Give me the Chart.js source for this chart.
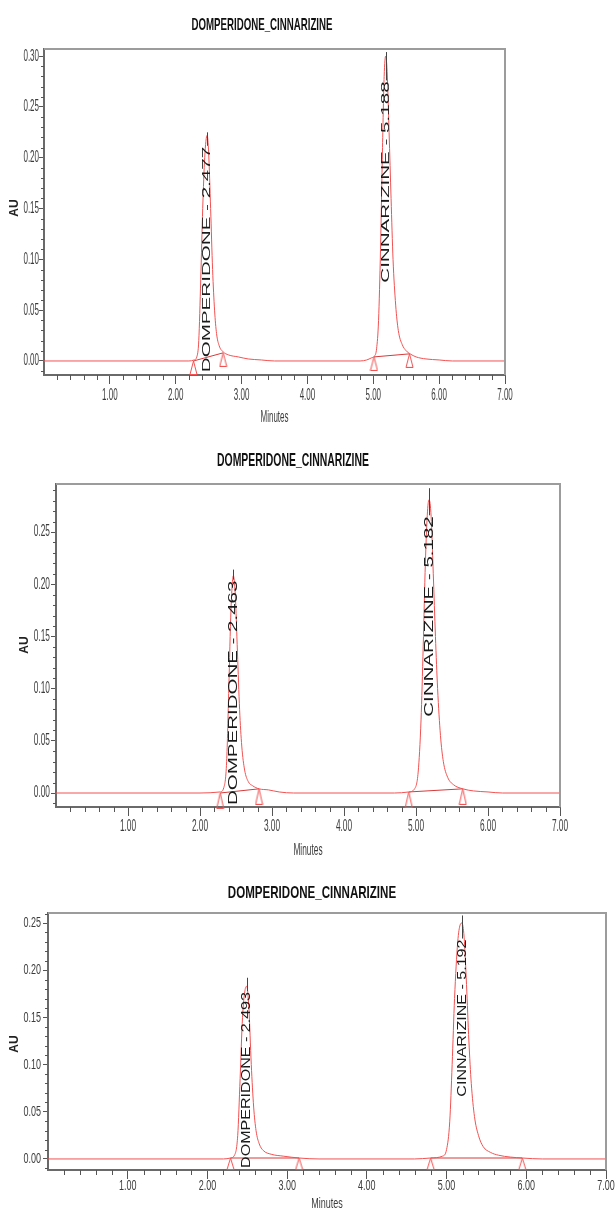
<!DOCTYPE html>
<html>
<head>
<meta charset="utf-8">
<title>DOMPERIDONE_CINNARIZINE</title>
<script src="https://cdn.jsdelivr.net/npm/chart.js@4.4.1/dist/chart.umd.min.js"></script>
<style>
  html, body { margin: 0; padding: 0; background: #fff; }
  #wrap { position: relative; width: 615px; height: 1209px; overflow: hidden; }
  canvas { position: absolute; left: 0; }
</style>
</head>
<body>
<div id="wrap">
  <canvas id="chartA" width="615" height="425" style="top:0px"></canvas>
  <canvas id="chartB" width="615" height="440" style="top:425px"></canvas>
  <canvas id="chartC" width="615" height="344" style="top:865px"></canvas>
</div>
<script>
// shared
var peakNames = ['DOMPERIDONE', 'CINNARIZINE'];
var xTicks = [1, 2, 3, 4, 5, 6, 7];

// run 1
var timeA = [0.00, 2.20, 2.28, 2.32, 2.35, 2.38, 2.41, 2.44, 2.477, 2.50, 2.53, 2.56, 2.59, 2.62, 2.66, 2.72, 2.80, 2.95, 3.10, 3.30, 3.50,
             4.80, 4.90, 4.97, 5.02, 5.05, 5.08, 5.11, 5.14, 5.165, 5.188, 5.21, 5.24, 5.27, 5.30, 5.34, 5.38, 5.44, 5.50, 5.56, 5.65, 5.80, 6.00, 6.20, 7.00];
var auA   = [0.000, 0.000, 0.001, 0.004, 0.020, 0.080, 0.150, 0.200, 0.222, 0.205, 0.150, 0.090, 0.050, 0.027, 0.015, 0.009, 0.006, 0.004, 0.002, 0.001, 0.000,
             0.000, 0.001, 0.003, 0.005, 0.012, 0.040, 0.110, 0.210, 0.280, 0.300, 0.285, 0.225, 0.160, 0.100, 0.055, 0.030, 0.016, 0.010, 0.007, 0.004, 0.002, 0.001, 0.000, 0.000];
var retA = [2.477, 5.188];
var startA = [2.27, 5.01], startAuA = [0.000, 0.004];
var endA = [2.72, 5.55], endAuA = [0.008, 0.007];
var yTicksA = [0.00, 0.05, 0.10, 0.15, 0.20, 0.25, 0.30];

// run 2
var timeB = [0.00, 2.00, 2.28, 2.33, 2.37, 2.40, 2.43, 2.463, 2.49, 2.52, 2.55, 2.58, 2.62, 2.67, 2.73, 2.82, 2.95, 3.10, 3.30,
             4.70, 4.90, 4.98, 5.03, 5.07, 5.10, 5.13, 5.16, 5.182, 5.21, 5.24, 5.27, 5.30, 5.34, 5.38, 5.44, 5.52, 5.65, 5.80, 6.00, 6.20, 7.00];
var auB   = [0.000, 0.000, 0.001, 0.005, 0.030, 0.100, 0.175, 0.208, 0.190, 0.135, 0.080, 0.045, 0.022, 0.011, 0.007, 0.004, 0.003, 0.001, 0.000,
             0.000, 0.001, 0.004, 0.020, 0.070, 0.140, 0.220, 0.270, 0.281, 0.265, 0.210, 0.150, 0.100, 0.055, 0.030, 0.015, 0.008, 0.004, 0.002, 0.001, 0.000, 0.000];
var retB = [2.463, 5.182];
var startB = [2.28, 4.90], startAuB = [0.000, 0.001];
var endB = [2.82, 5.65], endAuB = [0.004, 0.004];
var yTicksB = [0.00, 0.05, 0.10, 0.15, 0.20, 0.25];

// run 3
var timeC = [0.00, 2.20, 2.29, 2.34, 2.38, 2.41, 2.44, 2.47, 2.493, 2.52, 2.55, 2.58, 2.61, 2.65, 2.70, 2.80, 2.95, 3.15, 3.40,
             4.60, 4.80, 4.95, 5.00, 5.04, 5.07, 5.10, 5.14, 5.17, 5.192, 5.22, 5.25, 5.28, 5.31, 5.35, 5.40, 5.46, 5.55, 5.65, 5.80, 5.95, 6.20, 7.00];
var auC   = [0.000, 0.000, 0.001, 0.004, 0.025, 0.085, 0.150, 0.178, 0.183, 0.160, 0.100, 0.055, 0.030, 0.016, 0.009, 0.005, 0.003, 0.001, 0.000,
             0.000, 0.001, 0.003, 0.010, 0.040, 0.100, 0.170, 0.230, 0.248, 0.250, 0.235, 0.185, 0.125, 0.080, 0.045, 0.025, 0.013, 0.007, 0.004, 0.002, 0.001, 0.000, 0.000];
var retC = [2.493, 5.192];
var startC = [2.29, 4.80], startAuC = [0.001, 0.001];
var endC = [3.15, 5.95], endAuC = [0.001, 0.001];
var yTicksC = [0.00, 0.05, 0.10, 0.15, 0.20, 0.25];

var RED = 'rgb(242,82,82)';
var FONT = '"Liberation Sans", Arial, sans-serif';

function triangleMark(h) {
  // open triangle whose apex sits on the point
  var c = document.createElement('canvas');
  c.width = 9; c.height = h * 2;
  var g = c.getContext('2d');
  g.strokeStyle = RED; g.lineWidth = 1;
  g.beginPath();
  g.moveTo(4.5, h); g.lineTo(8, 2 * h - 0.5); g.lineTo(1, 2 * h - 0.5); g.closePath();
  g.stroke();
  return c;
}

function txt(ctx, s, x, y, sx, sy, rot, align) {
  ctx.save();
  ctx.translate(x, y);
  if (rot) ctx.rotate(rot);
  ctx.scale(sx, sy);
  ctx.textAlign = align || 'center';
  ctx.textBaseline = 'middle';
  ctx.fillText(s, 0, 0);
  ctx.restore();
}

var chromPlugin = {
  id: 'chrom',
  afterDraw: function(chart, args, o) {
    var ctx = chart.ctx, a = chart.chartArea, xs = chart.scales.x, ys = chart.scales.y;
    ctx.save();

    // top and right frame
    ctx.strokeStyle = '#9c9c9c'; ctx.lineWidth = 2;
    ctx.beginPath();
    ctx.moveTo(a.left, a.top); ctx.lineTo(a.right, a.top); ctx.lineTo(a.right, a.bottom);
    ctx.stroke();

    // minor ticks
    ctx.strokeStyle = '#555'; ctx.lineWidth = 1;
    var i, v, p;
    for (i = 1; i * 0.2 < xs.max - 1e-6; i++) {
      if (i % 5 === 0) continue;
      p = Math.round(xs.getPixelForValue(i * 0.2)) + 0.5;
      ctx.beginPath(); ctx.moveTo(p, a.bottom); ctx.lineTo(p, a.bottom + 5); ctx.stroke();
    }
    for (i = -5; i * 0.01 < ys.max; i++) {
      v = i * 0.01;
      if (v < ys.min || i % 5 === 0) continue;
      p = Math.round(ys.getPixelForValue(v)) + 0.5;
      ctx.beginPath(); ctx.moveTo(a.left - 3, p); ctx.lineTo(a.left, p); ctx.stroke();
    }

    // tick labels
    ctx.fillStyle = '#3c3c3c';
    ctx.font = o.tickSize + 'px ' + FONT;
    xs.ticks.forEach(function(t) {
      txt(ctx, t.value.toFixed(2), xs.getPixelForValue(t.value), o.xLabelY, o.tickSx, 1);
    });
    ys.ticks.forEach(function(t) {
      txt(ctx, t.value.toFixed(2), a.left - o.yLabelGap, ys.getPixelForValue(t.value), o.tickSx, 1, 0, 'right');
    });

    // title and axis titles
    ctx.fillStyle = '#111';
    ctx.font = 'bold ' + o.titleSize + 'px ' + FONT;
    txt(ctx, o.title, o.titleX, o.titleY, o.titleSx, 1);
    ctx.fillStyle = '#3c3c3c';
    ctx.font = o.tickSize + 'px ' + FONT;
    txt(ctx, 'Minutes', (a.left + a.right) / 2, o.minutesY, o.tickSx, 1);
    ctx.fillStyle = '#222';
    ctx.font = 'bold 12px ' + FONT;
    txt(ctx, 'AU', o.auX, o.auY, 1, 1, -Math.PI / 2);

    // peak labels
    ctx.font = o.peakSize + 'px ' + FONT;
    o.ret.forEach(function(rt, k) {
      var s = peakNames[k] + ' - ' + rt.toFixed(3);
      var x = xs.getPixelForValue(rt);
      var yb = ys.getPixelForValue(o.labelBase[k]);
      var w = ctx.measureText(s).width * o.peakStretch;
      ctx.fillStyle = '#1a1a1a';
      txt(ctx, s, x, yb, o.peakStretch, 1, -Math.PI / 2, 'left');
      var yt = ys.getPixelForValue(o.lineTop[k]);
      ctx.strokeStyle = '#444'; ctx.lineWidth = 1;
      ctx.beginPath(); ctx.moveTo(Math.round(x) + 0.5, yb - w - 1); ctx.lineTo(Math.round(x) + 0.5, yt); ctx.stroke();
    });
    ctx.restore();
  }
};

function pts(xv, yv) {
  return xv.map(function(t, i) { return { x: t, y: yv[i] }; });
}

function makeChart(id, d, o) {
  var base = [
    { x: d.start[0], y: d.startAu[0] }, { x: d.end[0], y: d.endAu[0] },
    { x: (d.end[0] + d.start[1]) / 2, y: null },
    { x: d.start[1], y: d.startAu[1] }, { x: d.end[1], y: d.endAu[1] }
  ];
  var marks = pts(d.start.concat(d.end), d.startAu.concat(d.endAu));
  return new Chart(document.getElementById(id), {
    type: 'line',
    data: {
      datasets: [
        { data: pts(d.time, d.au), borderColor: RED, borderWidth: 1, pointRadius: 0, cubicInterpolationMode: 'monotone', fill: false },
        { data: base, borderColor: 'rgb(214,58,58)', borderWidth: 1, pointRadius: 0, tension: 0, spanGaps: false },
        { data: marks, showLine: false, pointStyle: triangleMark(o.markH), pointRadius: 5, clip: false }
      ]
    },
    options: {
      responsive: false,
      animation: false,
      events: [],
      layout: { padding: { left: 0, top: o.top, right: o.right, bottom: 0 } },
      plugins: { legend: { display: false }, tooltip: { enabled: false }, chrom: o },
      scales: {
        x: {
          type: 'linear', min: 0, max: 7,
          afterBuildTicks: function(s) { s.ticks = xTicks.map(function(v) { return { value: v }; }); },
          afterFit: function(s) { s.height = o.xHeight; s.paddingLeft = 0; s.paddingRight = 0; },
          ticks: { display: false },
          grid: { drawOnChartArea: false, drawTicks: true, tickLength: 9, color: '#555', lineWidth: 1 },
          border: { display: true, color: '#6a6a6a', width: 2 }
        },
        y: {
          type: 'linear', min: o.yMin, max: o.yMax,
          afterBuildTicks: function(s) { s.ticks = d.yTicks.map(function(v) { return { value: v }; }); },
          afterFit: function(s) { s.width = o.yWidth; s.paddingTop = 0; s.paddingBottom = 0; },
          ticks: { display: false },
          grid: { drawOnChartArea: false, drawTicks: true, tickLength: 5, color: '#555', lineWidth: 1 },
          border: { display: true, color: '#6a6a6a', width: 2 }
        }
      }
    },
    plugins: [chromPlugin]
  });
}

makeChart('chartA',
  { time: timeA, au: auA, start: startA, startAu: startAuA, end: endA, endAu: endAuA, yTicks: yTicksA },
  { title: 'DOMPERIDONE_CINNARIZINE', ret: retA,
    top: 49, right: 110, xHeight: 50, yWidth: 44, yMin: -0.0138, yMax: 0.307,
    titleX: 262, titleY: 25, titleSize: 17, titleSx: 0.57,
    tickSize: 16, tickSx: 0.5, xLabelY: 396, yLabelGap: 5, minutesY: 418,
    auX: 15, auY: 208, peakSize: 11.5, peakStretch: 1.79,
    labelBase: [-0.011, 0.077], lineTop: [0.225, 0.304], markH: 14 });

makeChart('chartB',
  { time: timeB, au: auB, start: startB, startAu: startAuB, end: endB, endAu: endAuB, yTicks: yTicksB },
  { title: 'DOMPERIDONE_CINNARIZINE', ret: retB,
    top: 59, right: 55, xHeight: 58, yWidth: 56, yMin: -0.0134, yMax: 0.296,
    titleX: 293, titleY: 36, titleSize: 18, titleSx: 0.58,
    tickSize: 16, tickSx: 0.52, xLabelY: 402, yLabelGap: 6, minutesY: 426,
    auX: 25, auY: 220, peakSize: 12.5, peakStretch: 1.64,
    labelBase: [-0.0115, 0.073], lineTop: [0.214, 0.292], markH: 16 });

makeChart('chartC',
  { time: timeC, au: auC, start: startC, startAu: startAuC, end: endC, endAu: endAuC, yTicks: yTicksC },
  { title: 'DOMPERIDONE_CINNARIZINE', ret: retC,
    top: 48, right: 9, xHeight: 39, yWidth: 48, yMin: -0.0117, yMax: 0.2606,
    titleX: 312, titleY: 28, titleSize: 17, titleSx: 0.68,
    tickSize: 15, tickSx: 0.6, xLabelY: 321, yLabelGap: 7, minutesY: 339,
    auX: 15, auY: 179, peakSize: 13.5, peakStretch: 1.19,
    labelBase: [-0.0095, 0.066], lineTop: [0.192, 0.258], markH: 12 });
</script>
</body>
</html>
